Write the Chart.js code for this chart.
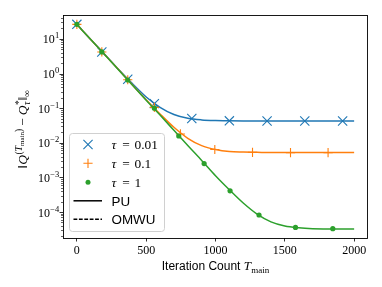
<!DOCTYPE html>
<html><head><meta charset="utf-8">
<script src="https://cdn.jsdelivr.net/npm/chart.js@4/dist/chart.umd.min.js"></script>
<style>html,body{margin:0;padding:0;background:#fff;overflow:hidden}</style></head>
<body><canvas id="c" width="382" height="287"></canvas>
<script>
// ---- data ----
const iterations = [0,100,200,300,400,500,600,700,800,900,1000,1100,1200,1300,1400,1500,1600,1700,1800,1900,2000];
const puTau001 = [26.3,9.6,3.6,1.33,0.51,0.21,0.106,0.0655,0.051,0.0457,0.0437,0.043,0.0427,0.0426,0.0426,0.0426,0.0426,0.0426,0.0426,0.0426,0.0426];
const puTau01  = [26.3,9.55,3.55,1.30,0.473,0.175,0.068,0.028,0.0135,0.0083,0.0064,0.0056,0.0054,0.0053,0.0052,0.0052,0.0052,0.0052,0.0052,0.0052,0.0052];
const puTau1   = [26.3,9.55,3.55,1.29,0.468,0.17,0.063,0.0229,0.0083,0.0031,0.00112,0.00044,0.000182,0.000087,0.000052,0.0000395,0.000035,0.000033,0.0000325,0.0000323,0.0000323];
const markIterTau001 = [0,180,367,559,829,1100,1372,1644,1917];
const markTau001     = [26.3,4.2,0.68,0.135,0.05,0.043,0.0426,0.0426,0.0426];
const markIterTau01  = [0,180,367,559,747,995,1267,1541,1812];
const markTau01      = [26.3,4.2,0.66,0.105,0.018,0.0064,0.0053,0.0052,0.0052];
const markIterTau1   = [0,180,367,559,735,918,1105,1314,1577,1846];
const markTau1       = [26.3,4.2,0.65,0.1,0.0157,0.0025,0.00041,0.000082,0.000036,0.000033];
const xTicks = [0,500,1000,1500,2000];
const yMajorExps = [-4,-3,-2,-1,0,1];
const legendTau = ['0.01','0.1','1'];
const legendMethods = ['PU','OMWU'];
const xTitle = 'Iteration Count';

const BLUE='#1f77b4', ORANGE='#ff7f0e', GREEN='#2ca02c';
const SERIF='"Liberation Serif","DejaVu Serif",serif';
const SANS='"Liberation Sans","DejaVu Sans",sans-serif';
const pts=(xs,ys)=>xs.map((x,i)=>({x,y:ys[i]}));

function drawMarker(ctx, style, x, y, r, color){
  ctx.save(); ctx.strokeStyle=color; ctx.fillStyle=color; ctx.lineWidth=1.1;
  ctx.beginPath();
  if(style==='x'){const d=r*0.707; ctx.moveTo(x-d,y-d);ctx.lineTo(x+d,y+d);ctx.moveTo(x-d,y+d);ctx.lineTo(x+d,y-d);ctx.stroke();}
  else if(style==='+'){ctx.moveTo(x-r,y);ctx.lineTo(x+r,y);ctx.moveTo(x,y-r);ctx.lineTo(x,y+r);ctx.stroke();}
  else {ctx.arc(x,y,r,0,Math.PI*2);ctx.fill();}
  ctx.restore();
}
function drawRich(ctx, parts, x, y){
  for(const p of parts){ctx.font=p.f; ctx.fillText(p.t,x,y+(p.dy||0)); const m=ctx.measureText(p.t).width; x+=(p.adv===0?0:m)+(p.gap||0);}
}
function richWidth(ctx, parts){
  let w=0; for(const p of parts){ctx.font=p.f; const m=ctx.measureText(p.t).width; w+=(p.adv===0?0:m)+(p.gap||0);} return w;
}

const decor = {
  id:'decor',
  afterDraw(chart){
    const ctx=chart.ctx, a=chart.chartArea, ys=chart.scales.y;
    ctx.save();
    // frame
    ctx.strokeStyle='#000'; ctx.lineWidth=0.9;
    ctx.strokeRect(a.left+0.5,a.top+0.5,a.right-a.left-1,a.bottom-a.top);
    // y ticks
    for(let e=-5;e<=1;e++){
      for(let k=1;k<=9;k++){
        const v=k*Math.pow(10,e);
        if(v<ys.min||v>ys.max) continue;
        const py=Math.round(ys.getPixelForValue(v))+0.5;
        const len=k===1?3.5:2;
        ctx.lineWidth=k===1?0.8:0.6;
        ctx.beginPath();ctx.moveTo(a.left,py);ctx.lineTo(a.left-len,py);ctx.stroke();
      }
    }
    // y tick labels
    ctx.fillStyle='#000'; ctx.textBaseline='alphabetic'; ctx.textAlign='left';
    for(const e of yMajorExps){
      const py=ys.getPixelForValue(Math.pow(10,e));
      const es=(e<0?'\u2212':'')+Math.abs(e);
      ctx.font='12px '+SERIF; const w10=ctx.measureText('10').width;
      ctx.font='8.5px '+SERIF; const we=ctx.measureText(es).width;
      const x0=59-we-w10;
      ctx.font='12px '+SERIF; ctx.fillText('10',x0,py+4.5);
      ctx.font='8.5px '+SERIF; ctx.fillText(es,x0+w10+0.3,py-0.5);
    }
    // x title
    const xt=[{t:xTitle+' ',f:'12px '+SANS},{t:'T',f:'italic 13px '+SERIF,gap:0.3},{t:'main',f:'9px '+SERIF,dy:2.5}];
    const xw=richWidth(ctx,xt);
    drawRich(ctx,xt,(a.left+a.right)/2-xw/2,270);
    // y title (rotated)
    const yt=[
      {t:'\u2016',f:'13.5px '+SERIF,gap:0.3},{t:'Q',f:'italic 13.5px '+SERIF,gap:0.6},
      {t:'(',f:'9.5px '+SERIF,dy:-5.5},{t:'T',f:'italic 9.5px '+SERIF,dy:-5.5},{t:'main',f:'7px '+SERIF,dy:-3.5},{t:')',f:'9.5px '+SERIF,dy:-5.5,gap:3},
      {t:'\u2212',f:'13.5px '+SERIF,gap:3},
      {t:'Q',f:'italic 13.5px '+SERIF,gap:0.6},{t:'*',f:'9.5px '+SERIF,dy:-5,adv:0},{t:'\u03C4',f:'italic 9.5px '+SERIF,dy:3,gap:0.8},
      {t:'\u2016',f:'13.5px '+SERIF},{t:'\u221E',f:'9.5px '+SERIF,dy:3}
    ];
    const yw=richWidth(ctx,yt);
    ctx.save(); ctx.translate(27,(a.top+a.bottom)/2+3); ctx.rotate(-Math.PI/2);
    drawRich(ctx,yt,-yw/2,0); ctx.restore();
    // legend
    const lx=69.5, ly=133.5, lw=95, lh=98;
    ctx.beginPath(); ctx.roundRect(lx,ly,lw,lh,3);
    ctx.fillStyle='rgba(255,255,255,0.8)'; ctx.fill();
    ctx.strokeStyle='#d0d0d0'; ctx.lineWidth=1; ctx.stroke();
    const rows=[144.5,163.3,182.3,200.8,219.3];
    const styles=[['x',6.5,BLUE],['+',4.6,ORANGE],['o',2.5,GREEN]];
    const tx=111.5, em=13.4;
    for(let i=0;i<3;i++){
      drawMarker(ctx,styles[i][0],88,rows[i],styles[i][1],styles[i][2]);
      ctx.fillStyle='#000';
      ctx.font='italic 13.4px '+SERIF; ctx.fillText('\u03C4',tx,rows[i]+4.5);
      ctx.font='13.4px '+SERIF;
      const eqw=ctx.measureText('=').width;
      ctx.fillText('=',tx+(0.437+0.26+0.389)*em-eqw/2,rows[i]+4.5);
      ctx.fillText(legendTau[i],tx+1.72*em,rows[i]+4.5);
    }
    ctx.strokeStyle='#000'; ctx.lineWidth=1.5;
    ctx.beginPath(); ctx.moveTo(73.5,rows[3]); ctx.lineTo(102,rows[3]); ctx.stroke();
    ctx.setLineDash([3.8,1.6]);
    ctx.beginPath(); ctx.moveTo(73.5,rows[4]); ctx.lineTo(102,rows[4]); ctx.stroke();
    ctx.setLineDash([]);
    ctx.font='13.4px '+SANS; ctx.fillStyle='#000';
    ctx.fillText(legendMethods[0],tx,rows[3]+4.8);
    ctx.fillText(legendMethods[1],tx,rows[4]+4.8);
    ctx.restore();
  }
};

const lineDs=(data,color,order)=>({type:'line',data,borderColor:color,borderWidth:1.5,pointRadius:0,fill:false,cubicInterpolationMode:'monotone',order});
const markDs=(data,color,style,r,order)=>({type:'scatter',data,showLine:false,pointStyle:style,pointRadius:r,pointBorderColor:color,pointBackgroundColor:color,pointBorderWidth:style==='circle'?0:1.1,order});

new Chart(document.getElementById('c'),{
  type:'line',
  data:{datasets:[
    lineDs(pts(iterations,puTau001),BLUE,6),
    markDs(pts(markIterTau001,markTau001),BLUE,'crossRot',6.5,5),
    lineDs(pts(iterations,puTau01),ORANGE,4),
    markDs(pts(markIterTau01,markTau01),ORANGE,'cross',4.6,3),
    lineDs(pts(iterations,puTau1),GREEN,2),
    markDs(pts(markIterTau1,markTau1),GREEN,'circle',2.6,1)
  ]},
  options:{
    responsive:false, animation:false, devicePixelRatio:1,
    layout:{padding:{left:0,top:15,right:14,bottom:0}},
    plugins:{legend:{display:false},tooltip:{enabled:false}},
    scales:{
      x:{type:'linear',min:-100,max:2100,
        afterBuildTicks:s=>{s.ticks=xTicks.map(v=>({value:v}));},
        afterFit:s=>{s.height=49;},
        grid:{display:true,drawOnChartArea:false,drawTicks:true,tickLength:3.5,color:'#000',lineWidth:0.8},
        border:{display:false},
        ticks:{font:{family:SERIF,size:12},color:'#000',padding:2,maxRotation:0,callback:v=>String(v)}},
      y:{type:'logarithmic',min:Math.pow(10,-4.75),max:Math.pow(10,1.69),
        afterFit:s=>{s.width=63;},
        grid:{display:false},border:{display:false},ticks:{display:false}}
    }
  },
  plugins:[decor]
});
</script></body></html>
